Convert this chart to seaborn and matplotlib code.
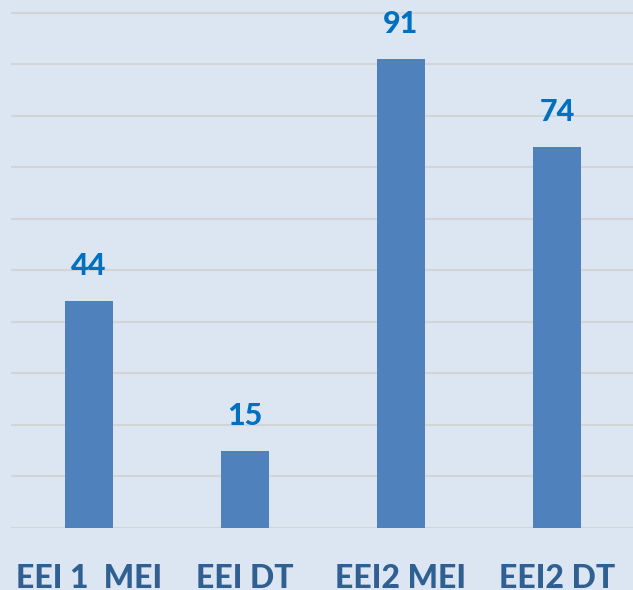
import matplotlib
matplotlib.use("Agg")
import matplotlib.pyplot as plt
import seaborn as sns
import pandas as pd

categories = ["EEI 1  MEI", "EEI DT", "EEI2 MEI", "EEI2 DT"]
values = [44, 15, 91, 74]

sns.set_theme(style="white")
plt.rcParams["font.family"] = ["Lato", "DejaVu Sans"]

bg = "#dce6f2"
W, H = 633, 590
fig = plt.figure(figsize=(W / 100, H / 100), dpi=100, facecolor=bg)
ppu = (528 - 59) / 91.0
ymax = 102
top_px = 528 - ymax * ppu
ax = fig.add_axes([11 / W, (H - 528) / H, 624 / W, (528 - top_px) / H])
ax.set_facecolor(bg)

df = pd.DataFrame({"cat": categories, "val": values})
sns.barplot(data=df, x="cat", y="val", color="#4f81bd", saturation=1,
            width=0.31, ax=ax, zorder=3, linewidth=0, edgecolor="none")

ax.set_xlim(-0.5, 3.5)
ax.set_ylim(0, ymax)
ax.set_yticks(range(10, 101, 10))
ax.yaxis.grid(True, color="#d2d4d6", linewidth=1.5, zorder=0)
ax.set_axisbelow(True)
ax.axhline(0, color="#d2d4d6", linewidth=1.5, zorder=1)
for s in ax.spines.values():
    s.set_visible(False)
ax.tick_params(axis="y", left=False, labelleft=False)
ax.tick_params(axis="x", bottom=False, pad=20)
ax.set_xlabel("")
ax.set_ylabel("")
for lbl in ax.get_xticklabels():
    lbl.set_fontsize(23)
    lbl.set_fontweight(900)
    lbl.set_color("#305f91")
    lbl.set_verticalalignment("top")

for i, v in enumerate(values):
    ax.annotate(str(v), (i, v), xytext=(0, 21), textcoords="offset pixels",
                ha="center", va="bottom", fontsize=22, fontweight=900,
                color="#0070c0")

fig.savefig("out.png", dpi=100, facecolor=bg)
